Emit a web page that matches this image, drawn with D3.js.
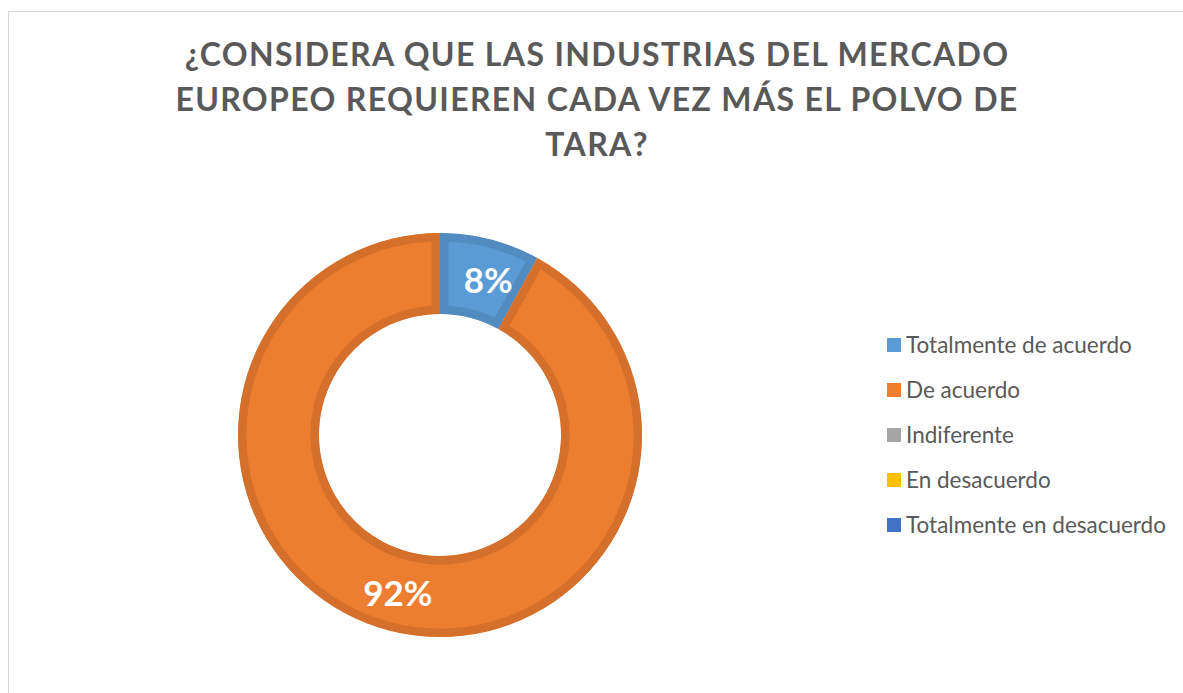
<!DOCTYPE html>
<html>
<head>
<meta charset="utf-8">
<script src="https://cdn.jsdelivr.net/npm/d3@7"></script>
<style>
  html, body { margin: 0; padding: 0; background: #fff; }
  svg { display: block; }
</style>
</head>
<body>
<svg id="chart"></svg>
<script>
const width = 1183, height = 693;

// data
const titleLines = ["¿CONSIDERA QUE LAS INDUSTRIAS DEL MERCADO", "EUROPEO REQUIEREN CADA VEZ MÁS EL POLVO DE", "TARA?"];
const categories = ["Totalmente de acuerdo", "De acuerdo", "Indiferente", "En desacuerdo", "Totalmente en desacuerdo"];
const values = [8, 92, 0, 0, 0];
const colors = ["#5B9BD5", "#ED7D31", "#A5A5A5", "#FFC000", "#4472C4"];

const cx = 440, cy = 435;
const outerR = 202, innerR = 121;
const font = "Lato, 'Open Sans', sans-serif";

const svg = d3.select("#chart")
  .attr("width", width)
  .attr("height", height);

// chart area border
svg.append("rect")
  .attr("x", 8.5)
  .attr("y", 11.5)
  .attr("width", width)
  .attr("height", height)
  .attr("fill", "#fff")
  .attr("stroke", "#D9D9D9")
  .attr("stroke-width", 1);

// title
svg.append("g")
  .selectAll("text")
  .data(titleLines)
  .enter()
  .append("text")
  .attr("x", 597)
  .attr("y", (d, i) => 66 + i * 45)
  .attr("text-anchor", "middle")
  .attr("font-family", font)
  .attr("font-weight", "bold")
  .attr("font-size", 32)
  .attr("letter-spacing", 1.35)
  .attr("fill", "#595959")
  .text(d => d);

// donut
const color = d3.scaleOrdinal().domain(categories).range(colors);
const pie = d3.pie().sort(null).value(d => d.value);
const arcs = pie(categories.map((c, i) => ({ name: c, value: values[i] })))
  .filter(d => d.value > 0);
const arc = d3.arc().innerRadius(innerR).outerRadius(outerR);
const total = d3.sum(values);

const donut = svg.append("g").attr("transform", `translate(${cx},${cy})`);

const defs = svg.append("defs");
defs.selectAll("clipPath")
  .data(arcs)
  .enter()
  .append("clipPath")
  .attr("id", (d, i) => "clip" + i)
  .append("path")
  .attr("d", arc);

// slice with a darker inset rim
donut.selectAll("path.slice")
  .data(arcs)
  .enter()
  .append("path")
  .attr("class", "slice")
  .attr("d", arc)
  .attr("clip-path", (d, i) => `url(#clip${i})`)
  .attr("fill", d => color(d.data.name))
  .attr("stroke", d => d3.color(color(d.data.name)).darker(0.3))
  .attr("stroke-width", 17)
  .attr("stroke-linejoin", "round");

donut.selectAll("text")
  .data(arcs)
  .enter()
  .append("text")
  .attr("transform", d => {
    const [x, y] = arc.centroid(d);
    return `translate(${x + (d.index === 0 ? 8 : -2)},${y + 2})`;
  })
  .attr("dy", "0.36em")
  .attr("text-anchor", "middle")
  .attr("font-family", font)
  .attr("font-weight", "bold")
  .attr("font-size", 35)
  .attr("fill", "#fff")
  .text(d => Math.round(d.value / total * 100) + "%");

// legend
const legend = svg.append("g").attr("transform", "translate(887,345)");
const item = legend.selectAll("g")
  .data(categories)
  .enter()
  .append("g")
  .attr("transform", (d, i) => `translate(0,${i * 45})`);
item.append("rect")
  .attr("x", 0)
  .attr("y", -7)
  .attr("width", 14)
  .attr("height", 14)
  .attr("fill", d => color(d));
item.append("text")
  .attr("x", 19)
  .attr("y", 0)
  .attr("dy", "0.35em")
  .attr("font-family", font)
  .attr("font-size", 22.5)
  .attr("fill", "#595959")
  .text(d => d);
</script>
</body>
</html>
